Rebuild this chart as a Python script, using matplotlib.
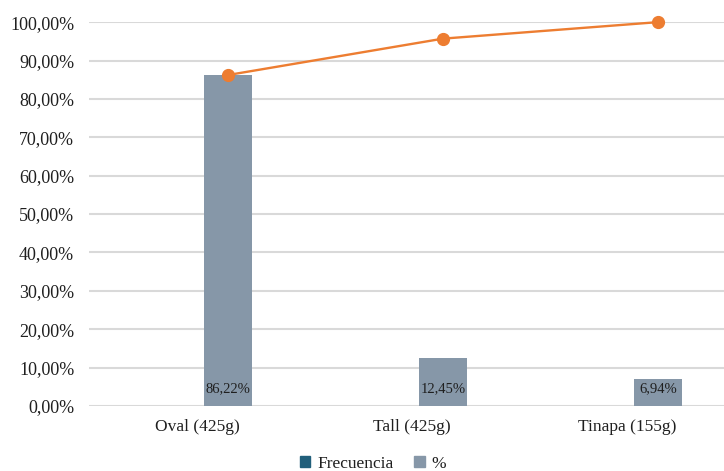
import matplotlib.pyplot as plt
from matplotlib.patches import Patch
from matplotlib.ticker import FuncFormatter
import numpy as np

# --- data ---
categorias = ["Oval (425g)", "Tall (425g)", "Tinapa (155g)"]
porcentaje = [86.22, 12.45, 6.94]
acumulado = [86.22, 95.7, 100.0]
etiquetas = ["86,22%", "12,45%", "6,94%"]

COLOR_FREC = "#215F7B"
COLOR_PCT = "#8697A8"
COLOR_LINEA = "#ED7D31"
COLOR_GRID = "#D9D9D9"
COLOR_TXT = "#1F1F1F"

plt.rcParams['font.family'] = 'serif'
plt.rcParams['font.serif'] = ['Liberation Serif', 'DejaVu Serif']

fig = plt.figure(figsize=(7.24, 4.71), dpi=100)
ax = fig.add_axes([0.1236, 0.138, 0.8909, 0.815])

x = np.arange(len(categorias))
offset = 0.144
ancho = 0.22

ax.bar(x + offset, porcentaje, width=ancho, color=COLOR_PCT, zorder=2)
for xi, txt in zip(x, etiquetas):
    ax.text(xi + offset, 4.5, txt, ha='center', va='center', fontsize=10.5,
            color=COLOR_TXT, zorder=3)

ax.plot(x + offset, acumulado, color=COLOR_LINEA, linewidth=1.7,
        marker='o', markersize=8.5, zorder=4, clip_on=False)

ax.set_xlim(-0.5, 2.5)
ax.set_ylim(0, 100)
ax.set_yticks(np.arange(0, 101, 10))
ax.yaxis.set_major_formatter(FuncFormatter(lambda v, p: f"{v:.2f}%".replace('.', ',')))
ax.set_xticks(x)
ax.set_xticklabels(categorias)

ax.grid(axis='y', color=COLOR_GRID, linewidth=1.5, zorder=0)
ax.set_axisbelow(True)
for s in ax.spines.values():
    s.set_visible(False)
ax.tick_params(axis='y', length=0, labelsize=13, pad=11, colors=COLOR_TXT)
ax.tick_params(axis='x', length=0, labelsize=12.5, pad=9, colors=COLOR_TXT)

handles = [Patch(color=COLOR_FREC, label='Frecuencia'),
           Patch(color=COLOR_PCT, label='%')]
fig.legend(handles=handles, loc='lower center', bbox_to_anchor=(0.515, -0.035),
           ncol=2, frameon=False, fontsize=12.5, handlelength=0.6, handleheight=0.6,
           handletextpad=0.4, columnspacing=1.2, labelcolor=COLOR_TXT)

fig.savefig("out.png", dpi=100)
